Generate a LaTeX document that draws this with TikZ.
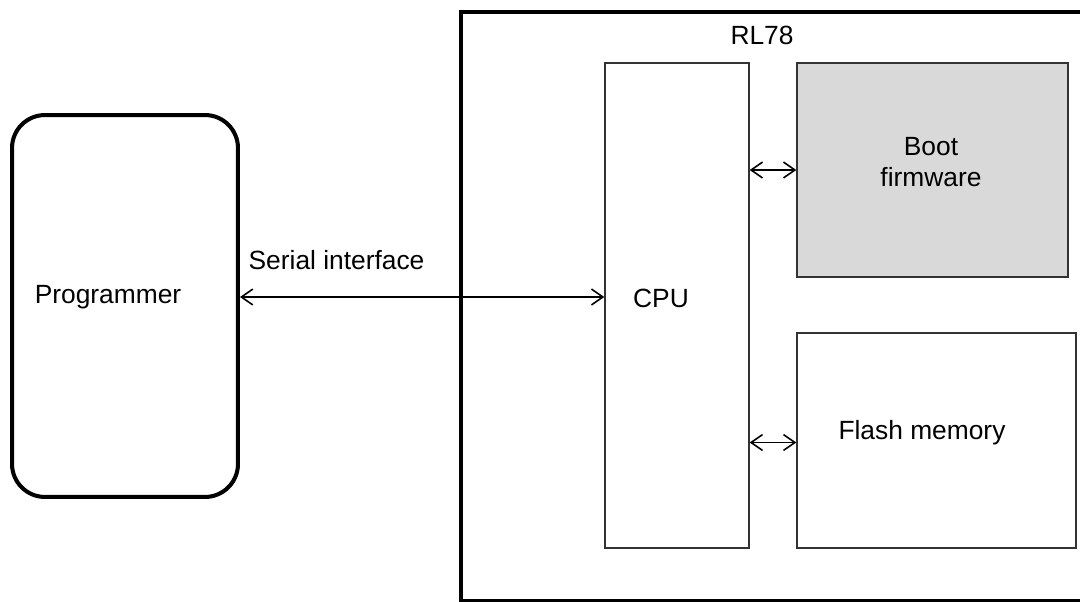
\documentclass[tikz,border=0pt]{standalone}
\usepackage{fontspec}
\setmainfont{Liberation Sans}
\usetikzlibrary{positioning, arrows.meta, calc}
\definecolor{bootgray}{HTML}{D9D9D9}

\begin{document}
\begin{tikzpicture}[x=0.02cm, y=-0.02cm, semithick,
    > = {Straight Barb[length=6.5pt, width=9pt]},
    every node/.style = {font=\fontsize{15}{17.5}\selectfont, inner sep=0pt},
    outerbox/.style = {draw=black, line width=2.3pt, rectangle},
    progbox/.style = {draw=black, line width=2.3pt, rectangle, rounded corners=0.66cm},
    blockbox/.style = {draw=black!80, line width=0.8pt, rectangle},
    link/.style = {<->, line width=0.9pt}]
    \useasboundingbox (0,0) rectangle (1080,602);
    \clip (0,0) rectangle (1080,602);
    % chip outline, right edge runs off the page
    \node[outerbox, minimum width=14cm, minimum height=11.78cm] (mcu) at (811,306.5) {};
    \node (mcu-txt) at (762,35) {RL78};
    \node[progbox, minimum width=4.52cm, minimum height=7.64cm,
          label={[shift={(-0.34cm,0.18cm)}]center:Programmer}] (prog) at (125,306) {};
    \node[blockbox, minimum width=2.88cm, minimum height=9.7cm,
          label={[shift={(-0.32cm,0.15cm)}]center:CPU}] (cpu) at (677,305.5) {};
    \node[blockbox, fill=bootgray, minimum width=5.42cm, minimum height=4.28cm,
          label={[shift={(-0.03cm,0.16cm)}, align=center]center:Boot\\firmware}] (boot) at (932.5,170) {};
    \node[blockbox, minimum width=5.58cm, minimum height=4.3cm,
          label={[shift={(-0.29cm,0.15cm)}]center:Flash memory}] (flash) at (936.5,440.5) {};
    \draw[link] ([yshift=0.18cm]prog.east) -- ([yshift=0.18cm]prog.east -| cpu.west)
        node[pos=0.265, yshift=0.74cm] (serial) {Serial interface};
    \draw[link] (cpu.east |- boot.west) -- (boot.west);
    \draw[link] ([yshift=-0.04cm]cpu.east |- flash.west) -- ([yshift=-0.04cm]flash.west);
\end{tikzpicture}
\end{document}
